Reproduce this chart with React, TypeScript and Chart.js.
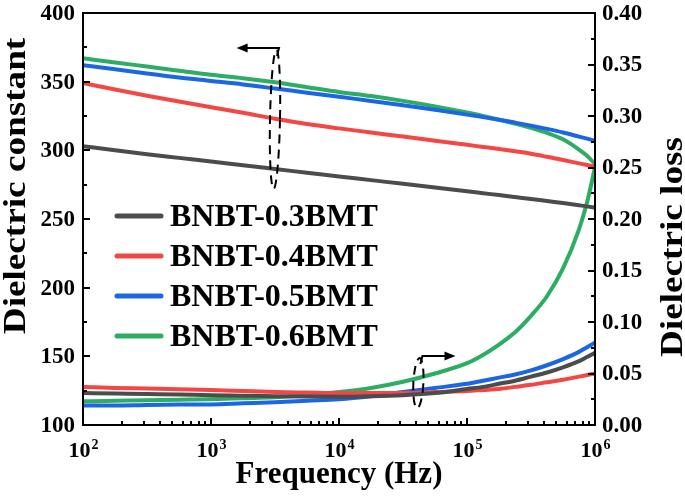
import React, { useEffect, useRef } from "react";
import { Chart, registerables } from "chart.js";
Chart.register(...registerables);

// Frequency grid (Hz): log10 = 2 ... 5 by 0.25, then 5.125 ... 6 finer
const FREQ = [100, 178, 316, 562, 1000, 1778, 3162, 5623, 10000, 17783, 31623, 56234, 100000, 133352, 177828, 237137, 316228, 421697, 562341, 749894, 865964, 1000000];

const SERIES = ["BNBT-0.3BMT", "BNBT-0.4BMT", "BNBT-0.5BMT", "BNBT-0.6BMT"];
const COLORS = ["#4c4c4c", "#f54646", "#1c66e3", "#2dad63"];

// Dielectric constant (left axis)
const EPS_03 = [303, 300, 297.2, 294.5, 291.8, 289.1, 286.4, 283.7, 281, 278.3, 275.6, 272.9, 270.2, 268.8, 267.4, 266, 264.6, 263.1, 261.6, 260, 259.2, 258.3];
const EPS_04 = [349, 344.3, 339.8, 335.5, 331.4, 327.3, 323, 319.2, 316, 313, 310, 307, 304, 302.5, 301, 299.3, 297.5, 295.3, 293, 290.5, 289.3, 288];
const EPS_05 = [362, 359, 356, 353, 350.5, 348, 345, 342, 339, 336, 332.8, 329.5, 326, 324.2, 322.3, 320.2, 318, 315.6, 313, 310, 308.5, 307];
const EPS_06 = [367, 364, 361, 358, 355, 352.5, 349.5, 346, 342.5, 339.5, 336, 332, 327.5, 325, 322.3, 319.5, 316.3, 312.7, 308, 300.5, 296, 290];

// Dielectric loss (right axis)
const LOSS_03 = [0.031, 0.0305, 0.03, 0.0295, 0.029, 0.0285, 0.028, 0.0277, 0.0275, 0.028, 0.029, 0.031, 0.035, 0.037, 0.04, 0.043, 0.047, 0.051, 0.056, 0.062, 0.066, 0.07];
const LOSS_04 = [0.037, 0.036, 0.0355, 0.0348, 0.034, 0.033, 0.032, 0.0315, 0.031, 0.031, 0.031, 0.032, 0.033, 0.034, 0.035, 0.037, 0.039, 0.0415, 0.044, 0.047, 0.0485, 0.05];
const LOSS_05 = [0.019, 0.019, 0.0195, 0.0198, 0.02, 0.021, 0.022, 0.0235, 0.025, 0.028, 0.032, 0.036, 0.04, 0.043, 0.046, 0.049, 0.053, 0.058, 0.064, 0.071, 0.0755, 0.08];
const LOSS_06 = [0.023, 0.0235, 0.024, 0.0245, 0.025, 0.026, 0.027, 0.029, 0.032, 0.036, 0.042, 0.05, 0.06, 0.068, 0.078, 0.09, 0.106, 0.125, 0.152, 0.19, 0.216, 0.25];

const EPS = [EPS_03, EPS_04, EPS_05, EPS_06];
const LOSS = [LOSS_03, LOSS_04, LOSS_05, LOSS_06];

// Axis ticks
const LEFT_TICKS = [100, 150, 200, 250, 300, 350, 400];
const RIGHT_TICKS = [0, 0.05, 0.1, 0.15, 0.2, 0.25, 0.3, 0.35, 0.4];
const X_EXPONENTS = [2, 3, 4, 5, 6];

const X_TITLE = "Frequency (Hz)";
const LEFT_TITLE = "Dielectric constant";
const RIGHT_TITLE = "Dielectric loss";

// Annotation anchors (data units)
const ANNO_LEFT = { freq: 3162, top: 373, bottom: 272, arrowTo: 1585 };
const ANNO_RIGHT = { freq: 41700, top: 0.065, bottom: 0.0165, arrowTo: 81300 };

const FONT = "'Liberation Serif', 'Times New Roman', Times, serif";

const decor = {
  id: "decor",
  afterDatasetsDraw(chart: any) {
    const { ctx, chartArea: a, scales } = chart;
    const x = scales.x, yl = scales.y, yr = scales.y1;
    ctx.save();
    ctx.strokeStyle = "#000";
    ctx.fillStyle = "#000";
    ctx.lineWidth = 2;
    ctx.strokeRect(a.left, a.top, a.right - a.left, a.bottom - a.top);

    // left ticks
    for (let v = 100; v <= 400; v += 25) {
      const py = Math.round(yl.getPixelForValue(v));
      const len = v % 50 === 0 ? 7 : 4;
      ctx.beginPath(); ctx.moveTo(a.left, py); ctx.lineTo(a.left + len, py); ctx.stroke();
    }
    // right ticks
    for (let i = 0; i <= 16; i++) {
      const v = i * 0.025;
      const py = Math.round(yr.getPixelForValue(v));
      const len = i % 2 === 0 ? 7 : 4;
      ctx.beginPath(); ctx.moveTo(a.right, py); ctx.lineTo(a.right - len, py); ctx.stroke();
    }
    // bottom ticks (log)
    for (let n = 2; n <= 6; n++) {
      for (let k = 1; k <= 9; k++) {
        if (n === 6 && k > 1) break;
        const v = k * Math.pow(10, n);
        const px = Math.round(x.getPixelForValue(v));
        const len = k === 1 ? 7 : 4;
        ctx.beginPath(); ctx.moveTo(px, a.bottom); ctx.lineTo(px, a.bottom - len); ctx.stroke();
      }
    }

    // tick labels
    ctx.font = `bold 23px ${FONT}`;
    ctx.textAlign = "right";
    ctx.textBaseline = "middle";
    LEFT_TICKS.forEach((v) => ctx.fillText(String(v), a.left - 8, yl.getPixelForValue(v) + 1));
    ctx.textAlign = "left";
    RIGHT_TICKS.forEach((v) => ctx.fillText(v.toFixed(2), a.right + 7, yr.getPixelForValue(v) + 1));

    ctx.textBaseline = "alphabetic";
    X_EXPONENTS.forEach((e) => {
      const px = x.getPixelForValue(Math.pow(10, e));
      ctx.font = `bold 22px ${FONT}`;
      const w1 = ctx.measureText("10").width;
      ctx.font = `bold 14px ${FONT}`;
      const w2 = ctx.measureText(String(e)).width;
      const start = px - (w1 + w2) / 2;
      ctx.font = `bold 22px ${FONT}`;
      ctx.textAlign = "left";
      ctx.fillText("10", start, a.bottom + 32);
      ctx.font = `bold 14px ${FONT}`;
      ctx.fillText(String(e), start + w1 + 1, a.bottom + 24);
    });

    // axis titles
    ctx.textAlign = "center";
    ctx.font = `bold 31px ${FONT}`;
    ctx.fillText(X_TITLE, (a.left + a.right) / 2, a.bottom + 58);

    ctx.save();
    ctx.translate(25, (a.top + a.bottom) / 2 - 33);
    ctx.rotate(-Math.PI / 2);
    ctx.scale(1.2, 1);
    ctx.font = `bold 31px ${FONT}`;
    ctx.fillText(LEFT_TITLE, 0, 0);
    ctx.restore();

    ctx.save();
    ctx.translate(682, (a.top + a.bottom) / 2 + 28);
    ctx.rotate(-Math.PI / 2);
    ctx.scale(1.2, 1);
    ctx.font = `bold 31px ${FONT}`;
    ctx.fillText(RIGHT_TITLE, 0, 0);
    ctx.restore();

    // legend
    SERIES.forEach((name, i) => {
      const ly = 216 + 40 * i;
      ctx.strokeStyle = COLORS[i];
      ctx.lineWidth = 5;
      ctx.lineCap = "round";
      ctx.beginPath(); ctx.moveTo(117, ly); ctx.lineTo(161, ly); ctx.stroke();
      ctx.fillStyle = "#000";
      ctx.font = `bold 32px ${FONT}`;
      ctx.textAlign = "left";
      ctx.fillText(name, 170, ly + 10);
    });

    // annotations
    ctx.strokeStyle = "#000";
    ctx.fillStyle = "#000";
    ctx.lineCap = "butt";
    const drawAnno = (anno: any, yScale: any, dir: number) => {
      const cx = x.getPixelForValue(anno.freq);
      const ty = yScale.getPixelForValue(anno.top);
      const by = yScale.getPixelForValue(anno.bottom);
      const cy = (ty + by) / 2;
      const ry = (by - ty) / 2;
      ctx.lineWidth = 2;
      ctx.setLineDash([9, 6]);
      ctx.beginPath();
      ctx.ellipse(cx, cy, 5, ry, dir < 0 ? 0.02 : 0.05, 0, Math.PI * 2);
      ctx.stroke();
      ctx.setLineDash([]);
      const ax = x.getPixelForValue(anno.arrowTo);
      const tipY = ty - 2;
      ctx.beginPath();
      ctx.moveTo(cx + 2, ty + 6);
      ctx.lineTo(cx + 4, tipY);
      ctx.lineTo(ax - dir * 8, tipY);
      ctx.stroke();
      ctx.beginPath();
      ctx.moveTo(ax, tipY);
      ctx.lineTo(ax - dir * 11, tipY - 4.5);
      ctx.lineTo(ax - dir * 11, tipY + 4.5);
      ctx.closePath();
      ctx.fill();
    };
    drawAnno(ANNO_LEFT, yl, -1);
    drawAnno(ANNO_RIGHT, yr, 1);
    ctx.restore();
  },
};

export default function App() {
  const ref = useRef<HTMLCanvasElement | null>(null);
  useEffect(() => {
    if (!ref.current) return;
    const datasets: any[] = [];
    SERIES.forEach((name, i) => {
      datasets.push({
        label: name,
        data: FREQ.map((f, j) => ({ x: f, y: EPS[i][j] })),
        borderColor: COLORS[i],
        backgroundColor: COLORS[i],
        borderWidth: 4,
        pointRadius: 0,
        cubicInterpolationMode: "monotone",
        yAxisID: "y",
      });
    });
    SERIES.forEach((name, i) => {
      datasets.push({
        label: name + " loss",
        data: FREQ.map((f, j) => ({ x: f, y: LOSS[i][j] })),
        borderColor: COLORS[i],
        backgroundColor: COLORS[i],
        borderWidth: 4,
        pointRadius: 0,
        cubicInterpolationMode: "monotone",
        yAxisID: "y1",
      });
    });
    const chart = new Chart(ref.current, {
      type: "line",
      data: { datasets },
      options: {
        responsive: false,
        animation: false,
        layout: { padding: { left: 83, right: 90, top: 13, bottom: 73 } },
        plugins: { legend: { display: false }, tooltip: { enabled: false } },
        scales: {
          x: { type: "logarithmic", min: 100, max: 1000000, display: false },
          y: { type: "linear", min: 100, max: 400, display: false },
          y1: { type: "linear", position: "right", min: 0, max: 0.4, display: false },
        },
      },
      plugins: [decor],
    });
    return () => chart.destroy();
  }, []);
  return (
    <div style={{ position: "fixed", left: 0, top: 0, width: 685, height: 498, background: "#fff" }}>
      <canvas ref={ref} width={685} height={498} />
    </div>
  );
}
